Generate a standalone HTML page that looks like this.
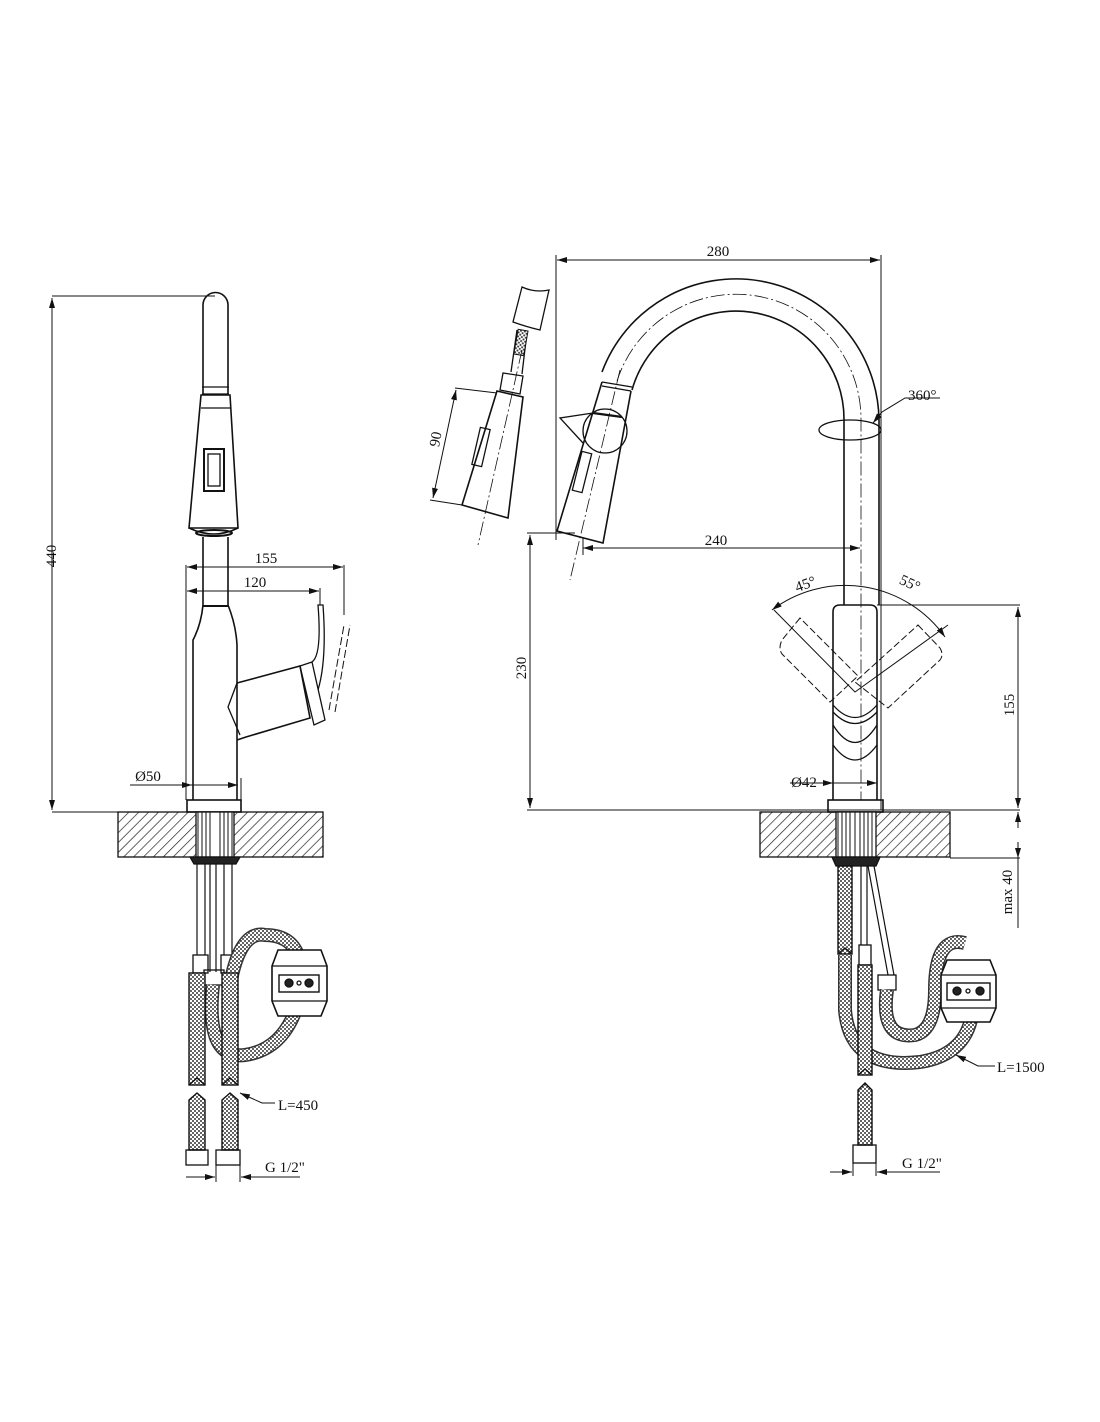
<!DOCTYPE html>
<html><head><meta charset="utf-8"><style>
html,body{margin:0;padding:0;background:#fff;}
svg{display:block}
text{font-family:"Liberation Serif",serif;font-size:15px;fill:#111}
</style></head><body>
<svg width="1100" height="1422" viewBox="0 0 1100 1422" xmlns="http://www.w3.org/2000/svg">
<defs>
<pattern id="h" width="7" height="7" patternUnits="userSpaceOnUse" patternTransform="rotate(45)">
<line x1="0" y1="0" x2="0" y2="7" stroke="#222" stroke-width="1.4"/>
</pattern>
<pattern id="br" width="4" height="4" patternUnits="userSpaceOnUse">
<rect width="4" height="4" fill="#fff"/><circle cx="1" cy="1" r="1" fill="#333"/><circle cx="3" cy="3" r="1" fill="#333"/>
</pattern>
<marker id="a" viewBox="0 0 10 6" refX="10" refY="3" markerWidth="10" markerHeight="6" orient="auto-start-reverse" markerUnits="userSpaceOnUse"><path d="M0,0L10,3L0,6z" fill="#111"/></marker>
</defs>
<g fill="none" stroke="#111" stroke-width="1.3">

<!-- ============ LEFT VIEW ============ -->
<line x1="52" y1="296" x2="215" y2="296" stroke-width="1"/>
<line x1="52" y1="812" x2="118" y2="812" stroke-width="1"/>
<line x1="52" y1="298" x2="52" y2="810" stroke-width="1" marker-start="url(#a)" marker-end="url(#a)"/>
<path d="M203,395 L203,305 A12.5,12.5 0 0 1 228,305 L228,395" stroke-width="1.6"/>
<line x1="202" y1="387" x2="229" y2="387"/>
<line x1="202" y1="394" x2="229" y2="394"/>
<path d="M201,395 L189,528 L238,528 L230,395 Z" stroke-width="1.6"/>
<line x1="201" y1="408" x2="230" y2="408"/>
<rect x="204" y="449" width="20" height="42" stroke-width="2"/>
<rect x="208" y="454" width="12" height="32"/>
<path d="M189,528 Q214,540 238,528" stroke-width="1.6"/>
<ellipse cx="214" cy="533" rx="18" ry="3" stroke-width="2"/>
<path d="M203,537 L203,605 Q201,625 193,640 L193,800 M228,537 L228,605 Q236,625 237,645 L237,800" stroke-width="1.6"/>
<line x1="203" y1="606" x2="228" y2="606" stroke-width="2"/>
<path d="M237,683 L300,666 L310,718 L246,737 L237,740" stroke-width="1.6"/>
<path d="M237,683 L228,707 L240,735" stroke-width="1.3"/>
<path d="M300,666 L312,662 L325,720 L314,725 Z"/>
<path d="M312,662 Q322,655 318,605 L323,605 Q327,660 318,690"/>
<path d="M329,710 L344,625 M335,712 L350,625" stroke-dasharray="8,3" stroke-width="1"/>
<line x1="186" y1="565" x2="186" y2="800" stroke-width="1"/>
<line x1="344" y1="565" x2="344" y2="615" stroke-width="1"/>
<line x1="320" y1="588" x2="320" y2="605" stroke-width="1"/>
<line x1="187" y1="567" x2="343" y2="567" stroke-width="1" marker-start="url(#a)" marker-end="url(#a)"/>
<line x1="187" y1="591" x2="319" y2="591" stroke-width="1" marker-start="url(#a)" marker-end="url(#a)"/>
<line x1="130" y1="785" x2="192" y2="785" stroke-width="1" marker-end="url(#a)"/>
<line x1="238" y1="785" x2="192" y2="785" stroke-width="1" marker-start="url(#a)"/>
<line x1="241" y1="778" x2="241" y2="800" stroke-width="1"/>
<rect x="187" y="800" width="54" height="12" stroke-width="1.6"/>
<rect x="118" y="812" width="205" height="45" fill="url(#h)"/>
<rect x="196" y="812" width="38" height="45" fill="#fff"/>
<path d="M198,812V857M202,812V857M206,812V857M210,812V857M220,812V857M224,812V857M228,812V857M232,812V857" stroke-width="1"/>
<path d="M190,857 L240,857 L236,864 L194,864 Z" fill="#222"/>
<path d="M197,864V955M205,864V955M210,864V972M216,864V972M224,864V955M232,864V955" stroke-width="1.2"/>
<rect x="193" y="955" width="15" height="18"/>
<rect x="221" y="955" width="15" height="18"/>
<rect x="204" y="970" width="20" height="15"/>
<path d="M213,985 Q205,1060 245,1055 Q280,1050 295,1012" stroke="#333" stroke-width="14"/>
<path d="M213,985 Q205,1060 245,1055 Q280,1050 295,1012" stroke="url(#br)" stroke-width="11"/>
<path d="M230,985 Q240,930 265,935 Q290,935 298,955" stroke="#333" stroke-width="14"/>
<path d="M230,985 Q240,930 265,935 Q290,935 298,955" stroke="url(#br)" stroke-width="11"/>
<path d="M278,950 L321,950 L327,966 L327,1001 L321,1016 L278,1016 L272,1001 L272,966 Z" fill="#fff" stroke-width="1.6"/>
<line x1="272" y1="966" x2="327" y2="966"/><line x1="272" y1="1001" x2="327" y2="1001"/>
<rect x="279" y="975" width="40" height="17" stroke-width="1.4"/>
<circle cx="289" cy="983" r="4" fill="#222"/><circle cx="299" cy="983" r="2"/><circle cx="309" cy="983" r="4" fill="#222"/>
<rect x="189" y="973" width="16" height="112" fill="url(#br)" stroke-width="1.4"/>
<rect x="222" y="973" width="16" height="112" fill="url(#br)" stroke-width="1.4"/>
<path d="M189,1085 L197,1078 L205,1085 M222,1085 L230,1078 L238,1085" stroke-width="1.4"/>
<path d="M189,1100 L197,1093 L205,1100 L205,1150 L189,1150 Z" fill="url(#br)" stroke-width="1.4"/>
<path d="M222,1100 L230,1093 L238,1100 L238,1150 L222,1150 Z" fill="url(#br)" stroke-width="1.4"/>
<rect x="186" y="1150" width="22" height="15"/><rect x="216" y="1150" width="24" height="15"/>
<line x1="216" y1="1165" x2="216" y2="1182" stroke-width="1"/><line x1="240" y1="1165" x2="240" y2="1182" stroke-width="1"/>
<line x1="186" y1="1177" x2="215" y2="1177" stroke-width="1" marker-end="url(#a)"/>
<line x1="241" y1="1177" x2="300" y2="1177" stroke-width="1" marker-start="url(#a)"/>
<path d="M240,1093 L262,1103 L275,1103" stroke-width="1" marker-start="url(#a)"/>

<!-- ============ RIGHT VIEW ============ -->
<line x1="556" y1="255" x2="556" y2="540" stroke-width="1"/>
<line x1="881" y1="255" x2="881" y2="810" stroke-width="1"/>
<line x1="557" y1="260" x2="880" y2="260" stroke-width="1" marker-start="url(#a)" marker-end="url(#a)"/>
<path d="M602,372 A143,143 0 0 1 879,420 L879,605" stroke-width="1.6"/>
<path d="M632,390 A108,108 0 0 1 844,420 L844,605" stroke-width="1.6"/>
<path d="M617,381 A125,125 0 0 1 861,420 L861,800" stroke-width="0.8" stroke-dasharray="14,3,2,3"/>
<line x1="602" y1="382" x2="632" y2="387"/>
<line x1="602" y1="386" x2="631" y2="391"/>
<path d="M602,382 L557,531 L603,543 L631,391" stroke-width="1.6"/>
<line x1="593" y1="413" x2="622" y2="417" stroke-width="2.2"/>
<circle cx="605" cy="431" r="22"/>
<path d="M593,413 L560,418 L583,443"/>
<rect x="577" y="452" width="10" height="40" transform="rotate(14 582 472)"/>
<line x1="620" y1="370" x2="570" y2="580" stroke-width="0.8" stroke-dasharray="14,3,2,3"/>
<ellipse cx="850" cy="430" rx="31" ry="10"/>
<path d="M873,423 L882,412 L905,398 L940,398" stroke-width="1" marker-start="url(#a)"/>
<line x1="583" y1="548" x2="860" y2="548" stroke-width="1" marker-start="url(#a)" marker-end="url(#a)"/>
<line x1="583" y1="538" x2="583" y2="555" stroke-width="1"/>
<line x1="527" y1="533" x2="575" y2="533" stroke-width="1"/>
<line x1="530" y1="535" x2="530" y2="808" stroke-width="1" marker-start="url(#a)" marker-end="url(#a)"/>
<line x1="527" y1="810" x2="1020" y2="810" stroke-width="1"/>
<path d="M522,287 Q535,293 549,290 L540,330 Q527,327 513,322 Z"/>
<path d="M517,330 L511,372 M527,332 L522,374" fill="none"/>
<rect x="516" y="330" width="10" height="25" fill="url(#br)" transform="rotate(10 521 342)" stroke-width="1"/>
<path d="M503,373 L523,376 L520,394 L500,390 Z"/>
<path d="M497,391 L523,397 L508,518 L462,505 Z" stroke-width="1.6"/>
<rect x="476" y="428" width="10" height="38" transform="rotate(13 481 447)"/>
<line x1="522" y1="350" x2="478" y2="545" stroke-width="0.8" stroke-dasharray="14,3,2,3"/>
<line x1="455" y1="388" x2="497" y2="393" stroke-width="1"/>
<line x1="430" y1="500" x2="462" y2="505" stroke-width="1"/>
<line x1="456" y1="390" x2="433" y2="498" stroke-width="1" marker-start="url(#a)" marker-end="url(#a)"/>
<path d="M833,800 L833,612 Q833,605 840,605 L870,605 Q877,605 877,612 L877,800" stroke-width="1.6"/>
<path d="M833,705 Q855,730 877,705 M833,712 Q855,735 877,712 M833,725 Q855,760 877,725 M833,745 Q855,775 877,745"/>
<line x1="790" y1="783" x2="833" y2="783" stroke-width="1" marker-end="url(#a)"/>
<line x1="877" y1="783" x2="833" y2="783" stroke-width="1" marker-start="url(#a)"/>
<path d="M772,610 A122,122 0 0 1 945,637" stroke-width="1" marker-start="url(#a)" marker-end="url(#a)"/>
<path d="M774,610 L855,692 L948,625" stroke-width="1"/>
<g stroke-dasharray="7,3" stroke-width="1">
<path d="M800,618 L782,640 Q778,648 782,654 L830,702 L858,676 Z"/>
<path d="M918,625 L940,648 Q944,655 940,660 L888,708 L855,682 Z"/>
</g>
<line x1="877" y1="605" x2="1020" y2="605" stroke-width="1"/>
<line x1="1018" y1="607" x2="1018" y2="808" stroke-width="1" marker-start="url(#a)" marker-end="url(#a)"/>
<rect x="828" y="800" width="55" height="12" stroke-width="1.6"/>
<rect x="760" y="812" width="190" height="45" fill="url(#h)"/>
<rect x="836" y="812" width="40" height="45" fill="#fff"/>
<path d="M838,812V857M842,812V857M846,812V857M850,812V857M855,812V857M860,812V857M864,812V857M868,812V857M872,812V857" stroke-width="1"/>
<path d="M832,857 L880,857 L876,866 L836,866 Z" fill="#222"/>
<line x1="950" y1="858" x2="1020" y2="858" stroke-width="1"/>
<line x1="1018" y1="812" x2="1018" y2="828" stroke-width="1" marker-start="url(#a)"/>
<line x1="1018" y1="842" x2="1018" y2="858" stroke-width="1" marker-end="url(#a)"/>
<line x1="1018" y1="858" x2="1018" y2="928" stroke-width="1"/>
<path d="M861,866V945M867,866V945" stroke-width="1.2"/>
<path d="M868,866 L888,975 M874,866 L894,975" stroke-width="1.2"/>
<rect x="859" y="945" width="12" height="20"/>
<rect x="878" y="975" width="18" height="15"/>
<path d="M887,990 Q880,1040 915,1035 Q935,1030 935,990 Q935,935 965,943" stroke="#333" stroke-width="14"/>
<path d="M887,990 Q880,1040 915,1035 Q935,1030 935,990 Q935,935 965,943" stroke="url(#br)" stroke-width="11"/>
<path d="M845,955 L845,1010 Q850,1070 920,1062 Q965,1055 972,1015" stroke="#333" stroke-width="14"/>
<path d="M845,955 L845,1010 Q850,1070 920,1062 Q965,1055 972,1015" stroke="url(#br)" stroke-width="11"/>
<rect x="838" y="866" width="14" height="88" fill="url(#br)" stroke-width="1.4"/>
<path d="M838,954 L845,948 L852,954" stroke-width="1.4"/>
<rect x="858" y="965" width="14" height="110" fill="url(#br)" stroke-width="1.4"/>
<path d="M858,1075 L865,1069 L872,1075" stroke-width="1.4"/>
<path d="M858,1090 L865,1083 L872,1090 L872,1145 L858,1145 Z" fill="url(#br)" stroke-width="1.4"/>
<rect x="853" y="1145" width="23" height="18"/>
<line x1="853" y1="1163" x2="853" y2="1176" stroke-width="1"/><line x1="876" y1="1163" x2="876" y2="1176" stroke-width="1"/>
<line x1="830" y1="1172" x2="852" y2="1172" stroke-width="1" marker-end="url(#a)"/>
<line x1="877" y1="1172" x2="940" y2="1172" stroke-width="1" marker-start="url(#a)"/>
<path d="M947,960 L990,960 L996,975 L996,1008 L990,1022 L947,1022 L941,1008 L941,975 Z" fill="#fff" stroke-width="1.6"/>
<line x1="941" y1="975" x2="996" y2="975"/><line x1="941" y1="1008" x2="996" y2="1008"/>
<rect x="947" y="983" width="43" height="17" stroke-width="1.4"/>
<circle cx="957" cy="991" r="4" fill="#222"/><circle cx="968" cy="991" r="2"/><circle cx="980" cy="991" r="4" fill="#222"/>
<path d="M956,1055 L978,1066 L995,1066" stroke-width="1" marker-start="url(#a)"/>
</g>

<text x="44" y="568" transform="rotate(-90 44 556)" text-anchor="middle">440</text>
<text x="266" y="563" text-anchor="middle">155</text>
<text x="255" y="587" text-anchor="middle">120</text>
<text x="148" y="781" text-anchor="middle">Ø50</text>
<text x="278" y="1110">L=450</text>
<text x="265" y="1172">G 1/2"</text>
<text x="718" y="256" text-anchor="middle">280</text>
<text x="908" y="400">360°</text>
<text x="716" y="545" text-anchor="middle">240</text>
<text x="528" y="670" transform="rotate(-90 526 670)" text-anchor="middle">230</text>
<text x="442" y="442" transform="rotate(-80 440 442)" text-anchor="middle">90</text>
<text x="805" y="589" transform="rotate(-20 805 583)" text-anchor="middle">45°</text>
<text x="910" y="588" transform="rotate(25 910 583)" text-anchor="middle">55°</text>
<text x="1012" y="711" transform="rotate(-90 1010 707)" text-anchor="middle">155</text>
<text x="804" y="787" text-anchor="middle">Ø42</text>
<text x="1013" y="897" transform="rotate(-90 1010 895)" text-anchor="middle">max 40</text>
<text x="997" y="1072">L=1500</text>
<text x="902" y="1168">G 1/2"</text>
</svg>
</body></html>
